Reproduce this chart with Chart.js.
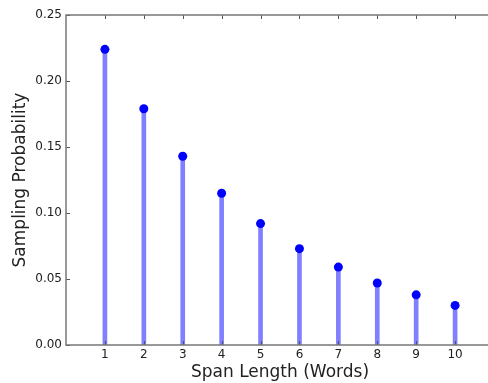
<!DOCTYPE html>
<html>
<head>
<meta charset="utf-8">
<script src="https://cdn.jsdelivr.net/npm/chart.js@4.4.1/dist/chart.umd.min.js"></script>
<style>
html,body{margin:0;padding:0;background:#fff;overflow:hidden;width:488px;height:383px;}
#wrap{position:absolute;left:0;top:0;width:500px;height:383px;}
</style>
</head>
<body>
<div id="wrap"><canvas id="c" width="500" height="383"></canvas></div>
<script>
const spanLengths = [1, 2, 3, 4, 5, 6, 7, 8, 9, 10];
const probabilities = [0.224, 0.179, 0.143, 0.115, 0.092, 0.073, 0.059, 0.047, 0.038, 0.030];
const xTickValues = [1, 2, 3, 4, 5, 6, 7, 8, 9, 10];
const yTickValues = [0, 0.05, 0.10, 0.15, 0.20, 0.25];

const FONT = "'DejaVu Sans', sans-serif";
const points = spanLengths.map((x, i) => ({x: x, y: probabilities[i]}));

const framePlugin = {
  id: 'frame',
  afterDatasetsDraw(chart) {
    const ctx = chart.ctx, a = chart.chartArea;
    const xs = chart.scales.x, ys = chart.scales.y;
    ctx.save();
    ctx.strokeStyle = '#555';
    ctx.lineWidth = 1;
    const L = 4;
    ctx.beginPath();
    xTickValues.forEach(v => {
      const px = Math.round(xs.getPixelForValue(v)) + 0.5;
      ctx.moveTo(px, a.bottom); ctx.lineTo(px, a.bottom - L);
      ctx.moveTo(px, a.top); ctx.lineTo(px, a.top + L);
    });
    yTickValues.forEach(v => {
      const py = Math.round(ys.getPixelForValue(v)) + 0.5;
      ctx.moveTo(a.left, py); ctx.lineTo(a.left + L, py);
      ctx.moveTo(a.right, py); ctx.lineTo(a.right - L, py);
    });
    ctx.stroke();
    ctx.strokeStyle = '#777';
    ctx.lineWidth = 1.5;
    ctx.strokeRect(a.left, a.top, a.right - a.left, a.bottom - a.top);
    ctx.restore();
  }
};

new Chart(document.getElementById('c'), {
  type: 'bar',
  data: {
    datasets: [
      {
        type: 'scatter',
        data: points,
        backgroundColor: '#0000ff',
        borderColor: '#0000ff',
        borderWidth: 0,
        pointRadius: 4.5,
        pointHoverRadius: 4.5,
        showLine: false,
        order: 0
      },
      {
        type: 'bar',
        data: points,
        backgroundColor: 'rgba(0,0,255,0.5)',
        borderWidth: 0,
        barThickness: 4,
        grouped: false,
        order: 1
      }
    ]
  },
  options: {
    responsive: false,
    animation: false,
    events: [],
    layout: {padding: {top: 15, left: 0, right: 6, bottom: 0}},
    plugins: {legend: {display: false}, tooltip: {enabled: false}},
    scales: {
      x: {
        type: 'linear',
        offset: false,
        min: 0, max: 11,
        grid: {display: false, drawTicks: false, offset: false},
        border: {display: false},
        afterBuildTicks: s => { s.ticks = xTickValues.map(v => ({value: v})); },
        afterFit: s => { s.height = 38; },
        ticks: {
          color: '#222', padding: 3,
          font: {family: FONT, size: 12},
          callback: v => String(v),
          maxRotation: 0, autoSkip: false
        },
        title: {
          display: true, text: 'Span Length (Words)', color: '#222',
          font: {family: FONT, size: 17}, padding: {top: 1, bottom: 0}
        }
      },
      y: {
        type: 'linear',
        min: 0, max: 0.25,
        grid: {display: false, drawTicks: false},
        border: {display: false},
        afterBuildTicks: s => { s.ticks = yTickValues.map(v => ({value: v})); },
        afterFit: s => { s.width = 66; },
        ticks: {
          color: '#222', padding: 4,
          font: {family: FONT, size: 12},
          callback: v => Number(v).toFixed(2)
        },
        title: {
          display: true, text: 'Sampling Probability', color: '#222',
          font: {family: FONT, size: 17}, padding: {top: 10, bottom: 0}
        }
      }
    }
  },
  plugins: [framePlugin]
});
</script>
</body>
</html>
